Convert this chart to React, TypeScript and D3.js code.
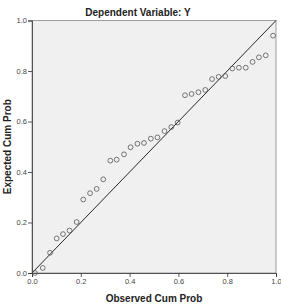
import React, { useRef, useEffect } from 'react';
import * as d3 from 'd3';

const observed = [
  0.012, 0.044, 0.074, 0.101, 0.127, 0.154, 0.183, 0.21, 0.238, 0.265, 0.292, 0.321,
  0.347, 0.377, 0.404, 0.432, 0.459, 0.487, 0.514, 0.543, 0.571, 0.597, 0.627, 0.654,
  0.682, 0.71, 0.738, 0.765, 0.792, 0.821, 0.848, 0.876, 0.904, 0.93, 0.958, 0.988,
];
const expected = [
  0.0, 0.02, 0.08, 0.137, 0.154, 0.168, 0.202, 0.291, 0.316, 0.333, 0.371, 0.445,
  0.449, 0.47, 0.498, 0.512, 0.515, 0.532, 0.537, 0.562, 0.578, 0.596, 0.704, 0.709,
  0.716, 0.725, 0.768, 0.777, 0.78, 0.81, 0.813, 0.813, 0.836, 0.854, 0.862, 0.94,
];
const tickValues = [0, 0.2, 0.4, 0.6, 0.8, 1.0];
const title = 'Dependent Variable: Y';
const xTitle = 'Observed Cum Prob';
const yTitle = 'Expected Cum Prob';

const App = () => {
  const svgRef = useRef<SVGSVGElement>(null);

  useEffect(() => {
    const svg = d3.select(svgRef.current);
    svg.selectAll('*').remove();

    const width = 281;
    const height = 308;
    const margin = { top: 20.5, right: 5, bottom: 35, left: 32 };
    const font = '"Liberation Sans", Arial, sans-serif';

    const x = d3.scaleLinear().domain([0, 1]).range([margin.left, width - margin.right]);
    const y = d3.scaleLinear().domain([0, 1]).range([height - margin.bottom, margin.top]);

    svg.append('rect')
      .attr('width', width)
      .attr('height', height)
      .attr('fill', '#ffffff');

    svg.append('rect')
      .attr('x', x(0))
      .attr('y', y(1))
      .attr('width', x(1) - x(0))
      .attr('height', y(0) - y(1))
      .attr('fill', '#f0f0f0')
      .attr('stroke', '#888')
      .attr('stroke-width', 0.8);

    const xAxis = svg.append('g')
      .attr('transform', `translate(0,${y(0)})`)
      .call(d3.axisBottom(x).tickValues(tickValues).tickFormat(d3.format('.1f')).tickSize(4).tickPadding(2));
    const yAxis = svg.append('g')
      .attr('transform', `translate(${x(0)},0)`)
      .call(d3.axisLeft(y).tickValues(tickValues).tickFormat(d3.format('.1f')).tickSize(4).tickPadding(1));

    [xAxis, yAxis].forEach((g) => {
      g.select('.domain').attr('stroke', '#333').attr('stroke-width', 0.8);
      g.selectAll('.tick line').attr('stroke', '#333').attr('stroke-width', 0.8);
      g.selectAll('.tick text')
        .attr('fill', '#444')
        .style('font', `7.5px ${font}`);
    });

    svg.append('line')
      .attr('x1', x(0))
      .attr('y1', y(0))
      .attr('x2', x(1))
      .attr('y2', y(1))
      .attr('stroke', '#111')
      .attr('stroke-width', 0.9);

    svg.append('g')
      .selectAll('circle')
      .data(observed.map((o, i) => [o, expected[i]]))
      .join('circle')
      .attr('cx', (d) => x(d[0]))
      .attr('cy', (d) => y(d[1]))
      .attr('r', 2.4)
      .attr('fill', 'none')
      .attr('stroke', '#555')
      .attr('stroke-width', 0.8);

    svg.append('text')
      .attr('x', 138)
      .attr('y', 16)
      .attr('text-anchor', 'middle')
      .style('font', `bold 10px ${font}`)
      .attr('fill', '#222')
      .text(title);

    svg.append('text')
      .attr('x', 154)
      .attr('y', 302)
      .attr('text-anchor', 'middle')
      .style('font', `bold 10px ${font}`)
      .attr('fill', '#222')
      .text(xTitle);

    svg.append('text')
      .attr('transform', `translate(11,${(y(0) + y(1)) / 2}) rotate(-90)`)
      .attr('text-anchor', 'middle')
      .style('font', `bold 10px ${font}`)
      .attr('fill', '#222')
      .text(yTitle);
  }, []);

  return (
    <svg
      ref={svgRef}
      width={281}
      height={308}
      style={{ position: 'absolute', left: 0, top: 0, display: 'block' }}
    />
  );
};

export default App;
